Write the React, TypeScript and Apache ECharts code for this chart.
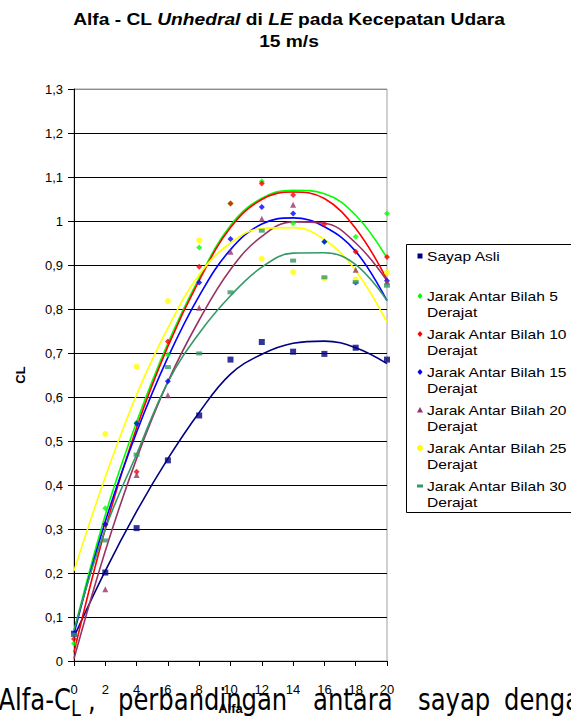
import React, { useEffect, useRef } from "react";
import * as echarts from "echarts";

// ---- data ----
const alfa = [0, 2, 4, 6, 8, 10, 12, 14, 16, 18, 20];

const seriesNames = [
  "Sayap Asli",
  "Jarak Antar Bilah 5 Derajat",
  "Jarak Antar Bilah 10 Derajat",
  "Jarak Antar Bilah 15 Derajat",
  "Jarak Antar Bilah 20 Derajat",
  "Jarak Antar Bilah 25 Derajat",
  "Jarak Antar Bilah 30 Derajat",
];

// measured points (null = not visible in the reference)
const sayapAsli = [0.062, 0.201, 0.302, 0.456, 0.558, 0.685, 0.725, 0.703, 0.698, 0.712, 0.685];
const bilah5 = [0.04, 0.347, 0.542, 0.696, 0.94, 1.04, 1.09, 0.995, 0.953, 0.964, 1.017];
const bilah10 = [0.05, 0.31, 0.43, 0.726, 0.896, 1.04, 1.085, 1.059, 0.993, 0.93, 0.918];
const bilah15 = [0.062, 0.311, 0.54, 0.636, 0.86, 0.959, 1.032, 1.017, 0.953, 0.86, 0.864];
const bilah20 = [null, 0.163, 0.423, 0.604, 0.803, 0.93, 1.005, 1.037, null, 0.889, 0.862];
const bilah25 = [null, 0.516, 0.669, 0.818, 0.956, null, 0.914, 0.884, 0.87, 0.867, 0.883];
const bilah30 = [0.06, 0.274, 0.469, 0.668, 0.699, 0.838, 0.978, 0.91, 0.872, 0.861, 0.853];

// trendline values
const trendSayapAsli = [0.055, 0.205, 0.34, 0.46, 0.565, 0.652, 0.697, 0.722, 0.727, 0.712, 0.676];
const trend5 = [0.067, 0.332, 0.543, 0.722, 0.87, 0.99, 1.052, 1.07, 1.062, 1.013, 0.916];
const trend10 = [0.02, 0.3, 0.53, 0.715, 0.865, 0.985, 1.049, 1.066, 1.051, 0.983, 0.867];
const trend15 = [0.062, 0.317, 0.52, 0.69, 0.83, 0.935, 0.993, 1.007, 0.987, 0.931, 0.819];
const trend20 = [0.005, 0.25, 0.46, 0.635, 0.775, 0.89, 0.965, 0.998, 0.995, 0.95, 0.864];
const trend25 = [0.205, 0.418, 0.605, 0.757, 0.878, 0.95, 0.983, 0.985, 0.958, 0.887, 0.77];
const trend30 = [0.07, 0.3, 0.47, 0.634, 0.745, 0.83, 0.895, 0.927, 0.928, 0.901, 0.819];

const points = [sayapAsli, bilah5, bilah10, bilah15, bilah20, bilah25, bilah30];
const trends = [trendSayapAsli, trend5, trend10, trend15, trend20, trend25, trend30];

const colors = ["#000080", "#00ff00", "#ff0000", "#0000ff", "#993366", "#ffff00", "#339966"];
const symbols: any[] = ["rect", "diamond", "diamond", "diamond", "triangle", "circle", "rect"];
const symbolSizes: any[] = [6, 6, 6, 6, 6, 6, [6, 4]];

const yTicks = { min: 0, max: 1.3, interval: 0.1 };
const xTicks = { min: 0, max: 20, interval: 2 };

const ARIAL = "'Liberation Sans', Arial, sans-serif";
const CAPTION_FONT = "'DejaVu Sans', Tahoma, sans-serif";

const fmtComma = (v: number) => {
  const r = Math.round(v * 10) / 10;
  if (Number.isInteger(r)) return String(r);
  return r.toFixed(1).replace(".", ",");
};

function legendMarker(i: number, cx: number, cy: number): any {
  const fill = colors[i];
  const s = symbols[i];
  if (s === "rect") {
    if (i === 0) return { type: "rect", shape: { x: cx - 2.5, y: cy - 2.5, width: 5, height: 5 }, style: { fill } };
    return { type: "rect", shape: { x: cx - 3, y: cy - 1.5, width: 6, height: 3 }, style: { fill } };
  }
  if (s === "diamond")
    return {
      type: "polygon",
      shape: { points: [[cx, cy - 3], [cx + 2.5, cy], [cx, cy + 3], [cx - 2.5, cy]] },
      style: { fill },
    };
  if (s === "triangle")
    return { type: "polygon", shape: { points: [[cx, cy - 3], [cx + 3, cy + 2.5], [cx - 3, cy + 2.5]] }, style: { fill } };
  return { type: "circle", shape: { cx, cy, r: 3 }, style: { fill } };
}

export default function App() {
  const ref = useRef<HTMLDivElement>(null);

  useEffect(() => {
    if (!ref.current) return;
    document.body.style.margin = "0";
    const chart = echarts.init(ref.current, undefined, { renderer: "svg" });

    const lineSeries = trends.map((t, i) => ({
      name: seriesNames[i] + " trend",
      type: "line",
      data: alfa.map((x, k) => [x, t[k]]),
      smooth: 0.4,
      showSymbol: false,
      symbol: "none",
      lineStyle: { color: colors[i], width: 1.6 },
      z: 2,
      silent: true,
    }));

    const scatterSeries = points.map((p, i) => ({
      name: seriesNames[i],
      type: "scatter",
      data: alfa.map((x, k) => [x, p[k]]).filter((d) => d[1] != null),
      symbol: symbols[i],
      symbolSize: symbolSizes[i],
      itemStyle: { color: colors[i] },
      z: 3,
    }));

    // legend (drawn to match the Excel legend box)
    const legendGraphics: any[] = [
      {
        type: "rect",
        shape: { x: 406.5, y: 244.5, width: 200, height: 268 },
        style: { fill: "#fff", stroke: "#000", lineWidth: 1 },
        z: 10,
      },
    ];
    const legendY = [256, 296, 334, 372, 410, 448, 486];
    seriesNames.forEach((name, i) => {
      const y = legendY[i];
      const m = legendMarker(i, 420, y);
      m.z = 11;
      legendGraphics.push(m);
      const lines = i === 0 ? ["Sayap Asli"] : [name.replace(" Derajat", ""), "Derajat"];
      lines.forEach((ln, j) => {
        legendGraphics.push({
          type: "text",
          x: 427,
          y: y + j * 16,
          scaleX: 1.2,
          z: 11,
          style: {
            text: ln,
            fontFamily: ARIAL,
            fontSize: 13,
            fill: "#000",
            align: "left",
            verticalAlign: "middle",
          },
        });
      });
    });

    const titleGraphics: any[] = [
      {
        type: "text",
        x: 289,
        y: 20,
        scaleX: 1.2,
        style: {
          text: "{b|Alfa - CL }{i|Unhedral}{b| di }{i|LE}{b| pada Kecepatan Udara}",
          align: "center",
          verticalAlign: "middle",
          rich: {
            b: { fontFamily: ARIAL, fontSize: 16, fontWeight: "bold", fill: "#000" },
            i: { fontFamily: ARIAL, fontSize: 16, fontWeight: "bold", fontStyle: "italic", fill: "#000" },
          },
        },
      },
      {
        type: "text",
        x: 289,
        y: 42,
        scaleX: 1.2,
        style: {
          text: "15 m/s",
          align: "center",
          verticalAlign: "middle",
          fontFamily: ARIAL,
          fontSize: 16,
          fontWeight: "bold",
          fill: "#000",
        },
      },
    ];

    const captionWords: [string, number][] = [
      ["Alfa-C", -1.6],
      [",", 88],
      ["perbandingan", 118],
      ["antara", 313],
      ["sayap", 418],
      ["denga", 504],
    ];
    const captionGraphics: any[] = captionWords.map(([w, x]) => ({
      type: "text",
      x,
      y: 699.6,
      scaleX: 0.81,
      z: 20,
      style: { text: w, fontFamily: CAPTION_FONT, fontSize: 30, fill: "#000", align: "left", verticalAlign: "middle" },
    }));
    captionGraphics.push({
      type: "text",
      x: 71,
      y: 708,
      scaleX: 0.81,
      z: 20,
      style: { text: "L", fontFamily: CAPTION_FONT, fontSize: 22, fill: "#000", align: "left", verticalAlign: "middle" },
    });

    const splitColors = Array.from({ length: 14 }, (_, k) => (k === 13 ? "#8c8c8c" : "#000"));

    chart.setOption({
      animation: false,
      backgroundColor: "#fff",
      grid: {
        left: 74,
        top: 89,
        width: 313,
        height: 579,
        show: true,
        borderColor: "#a0a0a0",
        borderWidth: 1,
        backgroundColor: "transparent",
      },
      xAxis: {
        type: "value",
        min: xTicks.min,
        max: xTicks.max,
        interval: xTicks.interval,
        name: "Alfa",
        nameLocation: "middle",
        nameGap: 41,
        nameTextStyle: { fontFamily: ARIAL, fontSize: 13, fontWeight: "bold", color: "#000" },
        axisLine: { show: true, onZero: false, lineStyle: { color: "#000", width: 1 } },
        axisTick: { show: true, length: 5, lineStyle: { color: "#000" } },
        axisLabel: { fontFamily: ARIAL, fontSize: 13, color: "#000", margin: 22 },
        splitLine: { show: false },
      },
      yAxis: {
        type: "value",
        min: yTicks.min,
        max: yTicks.max,
        interval: yTicks.interval,
        name: "CL",
        nameLocation: "middle",
        nameGap: 47,
        nameRotate: 90,
        nameTextStyle: { fontFamily: ARIAL, fontSize: 13, fontWeight: "bold", color: "#000" },
        axisLine: { show: true, onZero: false, lineStyle: { color: "#000", width: 1 } },
        axisTick: { show: true, length: 6, lineStyle: { color: "#000" } },
        axisLabel: { fontFamily: ARIAL, fontSize: 13, color: "#000", margin: 11, formatter: fmtComma },
        splitLine: { show: true, lineStyle: { color: splitColors, width: 1 } },
      },
      tooltip: { show: false },
      series: [...lineSeries, ...scatterSeries],
      graphic: [...titleGraphics, ...legendGraphics, ...captionGraphics],
    });

    return () => chart.dispose();
  }, []);

  return <div ref={ref} style={{ width: 571, height: 720, background: "#fff" }} />;
}
